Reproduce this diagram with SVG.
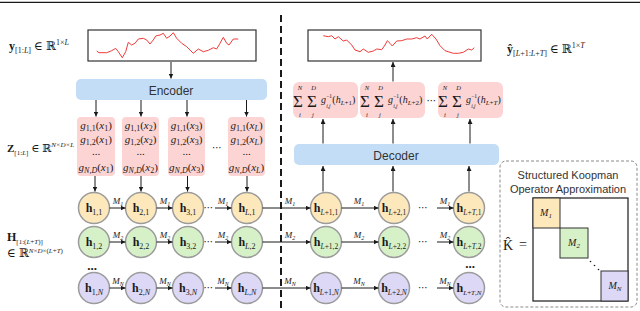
<svg xmlns="http://www.w3.org/2000/svg" width="640" height="311" viewBox="0 0 640 311">
<defs>
<marker id="ah" viewBox="0 0 6 6" refX="6" refY="3" markerWidth="5" markerHeight="5" orient="auto" markerUnits="userSpaceOnUse"><path d="M0,0 L6,3 L0,6 z" fill="#1a1a1a"/></marker>
</defs>
<style>
.sans{font-family:"Liberation Sans",Arial,sans-serif;fill:#333}
.serif{font-family:"Liberation Serif","DejaVu Serif",serif;fill:#1a1a1a}
.it{font-style:italic}
.b{font-weight:bold}
.arr{stroke:#1a1a1a;stroke-width:1;fill:none;marker-end:url(#ah)}
.pink{fill:#fcd4d4}
.blue{fill:#c4ddf6}
.c1{fill:#fde8bc;stroke:#9b9b9b;stroke-width:1.5}
.c2{fill:#d6f1c8;stroke:#9b9b9b;stroke-width:1.5}
.c3{fill:#dcd8f6;stroke:#9b9b9b;stroke-width:1.5}
.blk{stroke:#333;stroke-width:1}
.sig{fill:none;stroke:#f03a3a;stroke-width:1;stroke-linejoin:round}
.frame{fill:#fff;stroke:#333;stroke-width:1.2}
.hl{font-family:"Liberation Serif","DejaVu Serif",serif;font-size:12px;text-anchor:middle;fill:#1a1a1a}
.ml{font-family:"Liberation Serif","DejaVu Serif",serif;font-size:9px;font-style:italic;text-anchor:middle;fill:#1a1a1a}
.gl{font-family:"Liberation Serif","DejaVu Serif",serif;font-size:11px;text-anchor:middle;fill:#1a1a1a}
.dots{font-family:"DejaVu Sans",sans-serif;font-size:10px;text-anchor:middle;fill:#1a1a1a}
.lim{font-family:"Liberation Serif","DejaVu Serif",serif;font-size:6.5px;font-style:italic;text-anchor:middle;fill:#1a1a1a}
.sig-op{font-family:"Liberation Serif","DejaVu Serif",serif;font-size:17px;text-anchor:middle;fill:#1a1a1a}
</style>
<line x1="0" y1="2.3" x2="640" y2="2.3" stroke="#1a1a1a" stroke-width="1.3"/>
<line x1="281" y1="15" x2="281" y2="311" stroke="#1a1a1a" stroke-width="2" stroke-dasharray="7 4"/>

<g id="input-signal">
<rect x="88" y="30" width="168" height="31" class="frame"/>
<path class="sig" d="M96.7,51 L99,52.7 L106.7,52.7 L111.7,50.7 L115.7,48.3 L118.3,51.7 L122.3,57.7 L125.7,51.7 L128.3,42.3 L131.7,45 L135,43.3 L138.3,39 L143.3,38.3 L146.7,40 L150,44 L153.3,40 L155.7,36 L160,35 L163.3,33.3 L166.7,38.3 L170,36 L173.3,32.7 L176.7,38.3 L181.7,43.3 L186.7,46.7 L193.3,53.3 L198.3,49 L203.3,51.7 L208.3,50.3 L213.3,47.7 L216.7,49 L220,43.3 L223.3,37.3 L226.7,43.3 L229,45 L233.3,39 L238.3,39"/>
</g>
<text class="serif" x="9" y="50" font-size="12"><tspan class="b">y</tspan><tspan font-size="8" dy="3">[1:<tspan class="it">L</tspan>]</tspan><tspan dy="-3"> ∈ ℝ</tspan><tspan font-size="8" dy="-5">1×<tspan class="it">L</tspan></tspan></text>

<g id="output-signal">
<rect x="308" y="30" width="173" height="31" class="frame"/>
<path class="sig" d="M323.3,35.7 L328.3,36.7 L331.7,35.7 L335,39 L338.3,36.7 L343.3,41 L346.7,40 L351.7,45 L355,50 L360,51.7 L363.3,49 L368.3,52.3 L373.3,51 L376.7,49 L381.7,49.7 L385,45 L387.3,40.7 L390,43.3 L392.3,46 L396.7,41 L401.7,40.7 L406.7,39 L411.7,39 L416.7,37.7 L420,39 L425,36 L427.3,39 L431.7,34.3 L436,39 L440,45.7 L445,50.7 L453.3,53.3 L458.3,53.3 L463.3,52.3 L468.3,49 L471.7,50 L474.3,47.7"/>
</g>
<text class="serif" x="507" y="53" font-size="12"><tspan class="b">ŷ</tspan><tspan font-size="8" dy="3">[<tspan class="it">L</tspan>+1:<tspan class="it">L</tspan>+<tspan class="it">T</tspan>]</tspan><tspan dy="-3"> ∈ ℝ</tspan><tspan font-size="8" dy="-5">1×<tspan class="it">T</tspan></tspan></text>

<g id="encoder">
<rect x="76" y="79" width="191" height="21" rx="5" class="blue"/>
<text class="sans" x="171" y="94.5" font-size="12" text-anchor="middle">Encoder</text>
</g>

<g id="decoder">
<rect x="294" y="144" width="205" height="21" rx="5" class="blue"/>
<text class="sans" x="396" y="159.5" font-size="12" text-anchor="middle">Decoder</text>
</g>

<g id="z-boxes">
<g id="z1">
<rect x="77" y="117" width="38" height="59" rx="4" class="pink"/>
<text class="gl" x="96" y="129"><tspan class="it">g</tspan><tspan font-size="8" dy="2">1,1</tspan><tspan dy="-2">(</tspan><tspan class="it">x</tspan><tspan font-size="8" dy="2">1</tspan><tspan dy="-2">)</tspan></text>
<text class="gl" x="96" y="143"><tspan class="it">g</tspan><tspan font-size="8" dy="2">1,2</tspan><tspan dy="-2">(</tspan><tspan class="it">x</tspan><tspan font-size="8" dy="2">1</tspan><tspan dy="-2">)</tspan></text>
<text class="gl" x="96" y="155">...</text>
<text class="gl" x="96" y="171"><tspan class="it">g</tspan><tspan font-size="8" dy="2" class="it">N,D</tspan><tspan dy="-2">(</tspan><tspan class="it">x</tspan><tspan font-size="8" dy="2">1</tspan><tspan dy="-2">)</tspan></text>
</g>
<g id="z2">
<rect x="122" y="117" width="37" height="59" rx="4" class="pink"/>
<text class="gl" x="140.5" y="129"><tspan class="it">g</tspan><tspan font-size="8" dy="2">1,1</tspan><tspan dy="-2">(</tspan><tspan class="it">x</tspan><tspan font-size="8" dy="2">2</tspan><tspan dy="-2">)</tspan></text>
<text class="gl" x="140.5" y="143"><tspan class="it">g</tspan><tspan font-size="8" dy="2">1,2</tspan><tspan dy="-2">(</tspan><tspan class="it">x</tspan><tspan font-size="8" dy="2">2</tspan><tspan dy="-2">)</tspan></text>
<text class="gl" x="140.5" y="155">...</text>
<text class="gl" x="140.5" y="171"><tspan class="it">g</tspan><tspan font-size="8" dy="2" class="it">N,D</tspan><tspan dy="-2">(</tspan><tspan class="it">x</tspan><tspan font-size="8" dy="2">2</tspan><tspan dy="-2">)</tspan></text>
</g>
<g id="z3">
<rect x="168" y="117" width="37" height="59" rx="4" class="pink"/>
<text class="gl" x="186.5" y="129"><tspan class="it">g</tspan><tspan font-size="8" dy="2">1,1</tspan><tspan dy="-2">(</tspan><tspan class="it">x</tspan><tspan font-size="8" dy="2">3</tspan><tspan dy="-2">)</tspan></text>
<text class="gl" x="186.5" y="143"><tspan class="it">g</tspan><tspan font-size="8" dy="2">1,2</tspan><tspan dy="-2">(</tspan><tspan class="it">x</tspan><tspan font-size="8" dy="2">3</tspan><tspan dy="-2">)</tspan></text>
<text class="gl" x="186.5" y="155">...</text>
<text class="gl" x="186.5" y="171"><tspan class="it">g</tspan><tspan font-size="8" dy="2" class="it">N,D</tspan><tspan dy="-2">(</tspan><tspan class="it">x</tspan><tspan font-size="8" dy="2">3</tspan><tspan dy="-2">)</tspan></text>
</g>
<g id="zL">
<rect x="228" y="117" width="37" height="59" rx="4" class="pink"/>
<text class="gl" x="246.5" y="129"><tspan class="it">g</tspan><tspan font-size="8" dy="2">1,1</tspan><tspan dy="-2">(</tspan><tspan class="it">x</tspan><tspan font-size="8" dy="2" class="it">L</tspan><tspan dy="-2">)</tspan></text>
<text class="gl" x="246.5" y="143"><tspan class="it">g</tspan><tspan font-size="8" dy="2">1,2</tspan><tspan dy="-2">(</tspan><tspan class="it">x</tspan><tspan font-size="8" dy="2" class="it">L</tspan><tspan dy="-2">)</tspan></text>
<text class="gl" x="246.5" y="155">...</text>
<text class="gl" x="246.5" y="171"><tspan class="it">g</tspan><tspan font-size="8" dy="2" class="it">N,D</tspan><tspan dy="-2">(</tspan><tspan class="it">x</tspan><tspan font-size="8" dy="2" class="it">L</tspan><tspan dy="-2">)</tspan></text>
</g>
<text class="dots" x="217" y="151">⋯</text>
</g>
<text class="serif" x="7" y="152" font-size="11"><tspan class="b">Z</tspan><tspan font-size="7" dy="3">[1:<tspan class="it">L</tspan>]</tspan><tspan dy="-3"> ∈ ℝ</tspan><tspan font-size="7" dy="-5" class="it">N×D×L</tspan></text>

<g id="sum-boxes">
<g id="s1">
<rect x="293" y="82" width="65" height="36" rx="6" class="pink"/>
<text class="lim" x="300" y="89.5">N</text>
<text class="sig-op" x="298" y="106.5">Σ</text>
<text class="lim" x="300" y="117">i</text>
<text class="lim" x="313.5" y="89.5">D</text>
<text class="sig-op" x="312" y="106.5">Σ</text>
<text class="lim" x="313" y="117">j</text>
<text class="serif it" x="321" y="103" font-size="10">g</text>
<text class="serif" x="326.2" y="98" font-size="5.5">−1</text>
<text class="serif it" x="326.2" y="107.5" font-size="5.5">i,j</text>
<text class="serif" x="332.3" y="103" font-size="10">(<tspan class="it">h</tspan><tspan font-size="7" dy="2"><tspan class="it">L</tspan>+1</tspan><tspan dy="-2">)</tspan></text>
</g>
<g id="s2">
<rect x="360" y="82" width="65" height="36" rx="6" class="pink"/>
<text class="lim" x="367" y="89.5">N</text>
<text class="sig-op" x="365" y="106.5">Σ</text>
<text class="lim" x="367" y="117">i</text>
<text class="lim" x="380.5" y="89.5">D</text>
<text class="sig-op" x="379" y="106.5">Σ</text>
<text class="lim" x="380" y="117">j</text>
<text class="serif it" x="388" y="103" font-size="10">g</text>
<text class="serif" x="393.2" y="98" font-size="5.5">−1</text>
<text class="serif it" x="393.2" y="107.5" font-size="5.5">i,j</text>
<text class="serif" x="399.3" y="103" font-size="10">(<tspan class="it">h</tspan><tspan font-size="7" dy="2"><tspan class="it">L</tspan>+2</tspan><tspan dy="-2">)</tspan></text>
</g>
<g id="sT">
<rect x="438" y="82" width="65" height="36" rx="6" class="pink"/>
<text class="lim" x="445" y="89.5">N</text>
<text class="sig-op" x="443" y="106.5">Σ</text>
<text class="lim" x="445" y="117">i</text>
<text class="lim" x="458.5" y="89.5">D</text>
<text class="sig-op" x="457" y="106.5">Σ</text>
<text class="lim" x="458" y="117">j</text>
<text class="serif it" x="466" y="103" font-size="10">g</text>
<text class="serif" x="471.2" y="98" font-size="5.5">−1</text>
<text class="serif it" x="471.2" y="107.5" font-size="5.5">i,j</text>
<text class="serif" x="477.3" y="103" font-size="10">(<tspan class="it">h</tspan><tspan font-size="7" dy="2"><tspan class="it">L</tspan>+<tspan class="it">T</tspan></tspan><tspan dy="-2">)</tspan></text>
</g>
<text class="dots" x="431.5" y="104">⋯</text>
</g>

<g id="h-nodes">
<g id="h11"><circle cx="94" cy="208" r="15.5" class="c1"/><text class="hl" x="94" y="212"><tspan class="b">h</tspan><tspan font-size="8" dy="3">1,1</tspan></text></g>
<g id="h21"><circle cx="141" cy="208" r="15.5" class="c1"/><text class="hl" x="141" y="212"><tspan class="b">h</tspan><tspan font-size="8" dy="3">2,1</tspan></text></g>
<g id="h31"><circle cx="188" cy="208" r="15.5" class="c1"/><text class="hl" x="188" y="212"><tspan class="b">h</tspan><tspan font-size="8" dy="3">3,1</tspan></text></g>
<g id="hL1"><circle cx="247" cy="208" r="15.5" class="c1"/><text class="hl" x="247" y="212"><tspan class="b">h</tspan><tspan font-size="8" dy="3"><tspan class="it">L</tspan>,1</tspan></text></g>
<g id="hL11"><circle cx="326" cy="208" r="15.5" class="c1"/><text class="hl" x="326" y="212"><tspan class="b">h</tspan><tspan font-size="7.5" dy="3"><tspan class="it">L</tspan>+1,1</tspan></text></g>
<g id="hL21"><circle cx="394" cy="208" r="15.5" class="c1"/><text class="hl" x="394" y="212"><tspan class="b">h</tspan><tspan font-size="7.5" dy="3"><tspan class="it">L</tspan>+2,1</tspan></text></g>
<g id="hLT1"><circle cx="469" cy="208" r="15.5" class="c1"/><text class="hl" x="469" y="212"><tspan class="b">h</tspan><tspan font-size="7.5" dy="3"><tspan class="it">L</tspan>+<tspan class="it">T</tspan>,1</tspan></text></g>

<g id="h12"><circle cx="94" cy="242" r="15.5" class="c2"/><text class="hl" x="94" y="246"><tspan class="b">h</tspan><tspan font-size="8" dy="3">1,2</tspan></text></g>
<g id="h22"><circle cx="141" cy="242" r="15.5" class="c2"/><text class="hl" x="141" y="246"><tspan class="b">h</tspan><tspan font-size="8" dy="3">2,2</tspan></text></g>
<g id="h32"><circle cx="188" cy="242" r="15.5" class="c2"/><text class="hl" x="188" y="246"><tspan class="b">h</tspan><tspan font-size="8" dy="3">3,2</tspan></text></g>
<g id="hL2"><circle cx="247" cy="242" r="15.5" class="c2"/><text class="hl" x="247" y="246"><tspan class="b">h</tspan><tspan font-size="8" dy="3"><tspan class="it">L</tspan>,2</tspan></text></g>
<g id="hL12"><circle cx="326" cy="242" r="15.5" class="c2"/><text class="hl" x="326" y="246"><tspan class="b">h</tspan><tspan font-size="7.5" dy="3"><tspan class="it">L</tspan>+1,2</tspan></text></g>
<g id="hL22"><circle cx="394" cy="242" r="15.5" class="c2"/><text class="hl" x="394" y="246"><tspan class="b">h</tspan><tspan font-size="7.5" dy="3"><tspan class="it">L</tspan>+2,2</tspan></text></g>
<g id="hLT2"><circle cx="469" cy="242" r="15.5" class="c2"/><text class="hl" x="469" y="246"><tspan class="b">h</tspan><tspan font-size="7.5" dy="3"><tspan class="it">L</tspan>+<tspan class="it">T</tspan>,2</tspan></text></g>

<g id="h1N"><circle cx="94" cy="288" r="15.5" class="c3"/><text class="hl" x="94" y="292"><tspan class="b">h</tspan><tspan font-size="8" dy="3">1,<tspan class="it">N</tspan></tspan></text></g>
<g id="h2N"><circle cx="141" cy="288" r="15.5" class="c3"/><text class="hl" x="141" y="292"><tspan class="b">h</tspan><tspan font-size="8" dy="3">2,<tspan class="it">N</tspan></tspan></text></g>
<g id="h3N"><circle cx="188" cy="288" r="15.5" class="c3"/><text class="hl" x="188" y="292"><tspan class="b">h</tspan><tspan font-size="8" dy="3">3,<tspan class="it">N</tspan></tspan></text></g>
<g id="hLN"><circle cx="247" cy="288" r="15.5" class="c3"/><text class="hl" x="247" y="292"><tspan class="b">h</tspan><tspan font-size="8" dy="3"><tspan class="it">L</tspan>,<tspan class="it">N</tspan></tspan></text></g>
<g id="hL1N"><circle cx="326" cy="288" r="15.5" class="c3"/><text class="hl" x="326" y="292"><tspan class="b">h</tspan><tspan font-size="7.5" dy="3"><tspan class="it">L</tspan>+1,<tspan class="it">N</tspan></tspan></text></g>
<g id="hL2N"><circle cx="394" cy="288" r="15.5" class="c3"/><text class="hl" x="394" y="292"><tspan class="b">h</tspan><tspan font-size="7.5" dy="3"><tspan class="it">L</tspan>+2,<tspan class="it">N</tspan></tspan></text></g>
<g id="hLTN"><circle cx="469" cy="288" r="15.5" class="c3"/><text class="hl" x="469" y="292"><tspan class="b">h</tspan><tspan font-size="7" dy="3"><tspan class="it">L</tspan>+<tspan class="it">T</tspan>,<tspan class="it">N</tspan></tspan></text></g>

<text class="serif b" x="92" y="270" font-size="13" text-anchor="middle">...</text>
<text class="serif b" x="470" y="268" font-size="13" text-anchor="middle">...</text>
</g>
<text class="serif" x="7" y="241" font-size="12"><tspan class="b">H</tspan><tspan font-size="7" dy="3">[1:(<tspan class="it">L</tspan>+<tspan class="it">T</tspan>)]</tspan></text>
<text class="serif" x="7" y="257" font-size="12">∈ ℝ<tspan font-size="7" dy="-4"><tspan class="it">N</tspan>×<tspan class="it">D</tspan>×(<tspan class="it">L</tspan>+<tspan class="it">T</tspan>)</tspan></text>

<g id="connectors">
<line class="arr" x1="171" y1="62" x2="171" y2="78.5"/>
<line class="arr" x1="96" y1="100" x2="96" y2="116.5"/>
<line class="arr" x1="141" y1="100" x2="141" y2="116.5"/>
<line class="arr" x1="187" y1="100" x2="187" y2="116.5"/>
<line class="arr" x1="246.5" y1="100" x2="246.5" y2="116.5"/>
<line class="arr" x1="95" y1="176" x2="95" y2="191.5"/>
<line class="arr" x1="141" y1="176" x2="141" y2="191.5"/>
<line class="arr" x1="187.5" y1="176" x2="187.5" y2="191.5"/>
<line class="arr" x1="247" y1="176" x2="247" y2="191.5"/>

<line class="arr" x1="323" y1="191.5" x2="323" y2="166"/>
<line class="arr" x1="393" y1="191.5" x2="393" y2="166"/>
<line class="arr" x1="469" y1="191.5" x2="469" y2="166"/>
<line class="arr" x1="323" y1="143.5" x2="323" y2="119"/>
<line class="arr" x1="393" y1="143.5" x2="393" y2="119"/>
<line class="arr" x1="470" y1="143.5" x2="470" y2="119"/>
<line class="arr" x1="393" y1="81.5" x2="393" y2="62"/>

<line class="arr" x1="109.5" y1="208" x2="125.5" y2="208"/>
<line class="arr" x1="156.5" y1="208" x2="172.5" y2="208"/>
<line class="arr" x1="215" y1="208" x2="231.5" y2="208"/>
<line class="arr" x1="262.5" y1="208" x2="310.5" y2="208"/>
<line class="arr" x1="341.5" y1="208" x2="378.5" y2="208"/>
<line class="arr" x1="437" y1="208" x2="453.5" y2="208"/>
<text class="dots" x="208.5" y="211">⋯</text>
<text class="dots" x="423" y="211">⋯</text>
<text class="ml" x="118" y="204">M<tspan font-size="6" dy="2">1</tspan></text>
<text class="ml" x="165" y="204">M<tspan font-size="6" dy="2">1</tspan></text>
<text class="ml" x="223" y="204">M<tspan font-size="6" dy="2">1</tspan></text>
<text class="ml" x="290" y="204">M<tspan font-size="6" dy="2">1</tspan></text>
<text class="ml" x="359" y="204">M<tspan font-size="6" dy="2">1</tspan></text>
<text class="ml" x="445" y="204">M<tspan font-size="6" dy="2">1</tspan></text>

<line class="arr" x1="109.5" y1="242" x2="125.5" y2="242"/>
<line class="arr" x1="156.5" y1="242" x2="172.5" y2="242"/>
<line class="arr" x1="215" y1="242" x2="231.5" y2="242"/>
<line class="arr" x1="262.5" y1="242" x2="310.5" y2="242"/>
<line class="arr" x1="341.5" y1="242" x2="378.5" y2="242"/>
<line class="arr" x1="437" y1="242" x2="453.5" y2="242"/>
<text class="dots" x="208.5" y="245">⋯</text>
<text class="dots" x="423" y="245">⋯</text>
<text class="ml" x="118" y="238">M<tspan font-size="6" dy="2">2</tspan></text>
<text class="ml" x="165" y="238">M<tspan font-size="6" dy="2">2</tspan></text>
<text class="ml" x="223" y="238">M<tspan font-size="6" dy="2">2</tspan></text>
<text class="ml" x="290" y="238">M<tspan font-size="6" dy="2">2</tspan></text>
<text class="ml" x="359" y="238">M<tspan font-size="6" dy="2">2</tspan></text>
<text class="ml" x="445" y="238">M<tspan font-size="6" dy="2">2</tspan></text>

<line class="arr" x1="109.5" y1="288" x2="125.5" y2="288"/>
<line class="arr" x1="156.5" y1="288" x2="172.5" y2="288"/>
<line class="arr" x1="215" y1="288" x2="231.5" y2="288"/>
<line class="arr" x1="262.5" y1="288" x2="310.5" y2="288"/>
<line class="arr" x1="341.5" y1="288" x2="378.5" y2="288"/>
<line class="arr" x1="437" y1="288" x2="453.5" y2="288"/>
<text class="dots" x="208.5" y="291">⋯</text>
<text class="dots" x="423" y="291">⋯</text>
<text class="ml" x="118" y="284">M<tspan font-size="6" dy="2">N</tspan></text>
<text class="ml" x="165" y="284">M<tspan font-size="6" dy="2">N</tspan></text>
<text class="ml" x="223" y="284">M<tspan font-size="6" dy="2">N</tspan></text>
<text class="ml" x="290" y="284">M<tspan font-size="6" dy="2">N</tspan></text>
<text class="ml" x="359" y="284">M<tspan font-size="6" dy="2">N</tspan></text>
<text class="ml" x="445" y="284">M<tspan font-size="6" dy="2">N</tspan></text>
</g>

<g id="koopman">
<rect x="500" y="161" width="137" height="146" rx="6" fill="none" stroke="#8a8a8a" stroke-width="1" stroke-dasharray="3 2"/>
<text class="sans" x="568" y="179" font-size="11" text-anchor="middle">Structured Koopman</text>
<text class="sans" x="568" y="192.5" font-size="11" text-anchor="middle">Operator Approximation</text>
<rect x="533" y="198" width="95" height="103" fill="#fff" stroke="#1a1a1a" stroke-width="1.2"/>
<rect x="533" y="198" width="27" height="30" class="c1 blk"/>
<rect x="560" y="228" width="28" height="30" class="c2 blk"/>
<rect x="601" y="271" width="27" height="30" class="c3 blk"/>
<text class="ml" x="546" y="216" style="font-size:10px">M<tspan font-size="7" dy="2">1</tspan></text>
<text class="ml" x="574" y="246" style="font-size:10px">M<tspan font-size="7" dy="2">2</tspan></text>
<text class="ml" x="615" y="289" style="font-size:10px">M<tspan font-size="7" dy="2">N</tspan></text>
<circle cx="590.5" cy="261.5" r="0.8" fill="#1a1a1a"/>
<circle cx="594.5" cy="265.5" r="0.8" fill="#1a1a1a"/>
<circle cx="598.5" cy="269.5" r="0.8" fill="#1a1a1a"/>
<text class="serif" x="503" y="250" font-size="14">K̂</text>
<text class="serif" x="519" y="249" font-size="14">=</text>
</g>
</svg>
